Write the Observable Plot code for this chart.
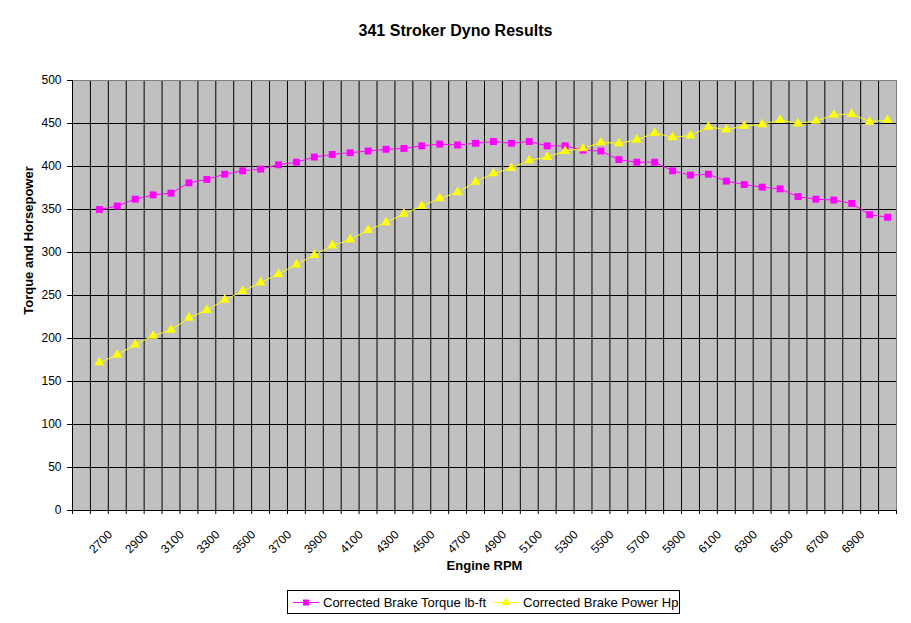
<!DOCTYPE html>
<html><head><meta charset="utf-8">
<script src="https://cdn.jsdelivr.net/npm/d3@7"></script>
<script src="https://cdn.jsdelivr.net/npm/@observablehq/plot@0.6"></script>
<style>
body{margin:0;background:#fff;font-family:"Liberation Sans",Arial,sans-serif;}
#wrap{position:relative;width:911px;height:623px;overflow:hidden;}
#title{position:absolute;left:0;top:0;width:911px;height:62px;line-height:62px;text-align:center;font-weight:bold;font-size:16px;color:#000;}
#chart{position:absolute;left:0;top:62px;}
#legend{position:absolute;left:287px;top:590px;width:391px;height:22px;border:1px solid #000;font-size:13px;display:flex;align-items:center;color:#000;background:#fff;}
#legend span{white-space:nowrap;}
#legend svg{display:block;}
</style></head><body>
<div id="wrap">
<div id="title">341 Stroker Dyno Results</div>
<div id="chart"></div>
<div id="legend"></div>
</div>
<script>
// Categories (first category is empty in the original sheet)
const categories = [2500,2600,2700,2800,2900,3000,3100,3200,3300,3400,3500,3600,3700,3800,3900,4000,4100,4200,4300,4400,4500,4600,4700,4800,4900,5000,5100,5200,5300,5400,5500,5600,5700,5800,5900,6000,6100,6200,6300,6400,6500,6600,6700,6800,6900,7000];
const rpm = [2600,2700,2800,2900,3000,3100,3200,3300,3400,3500,3600,3700,3800,3900,4000,4100,4200,4300,4400,4500,4600,4700,4800,4900,5000,5100,5200,5300,5400,5500,5600,5700,5800,5900,6000,6100,6200,6300,6400,6500,6600,6700,6800,6900,7000];
const torque = [350,354,362,367,369,381,385,391,395,397,402,405,411,414,416,418,420,421,424,426,425,427,429,427,429,424,424,419,418,408,405,405,395,390,391,383,379,376,374,365,362,361,357,344,341];
const power = [172,181,193,203,210,224,233,245,255,265,275,286,297,308,315,326,335,345,354,363,370,382,392,398,407,411,418,421,428,427,431,439,434,436,446,443,447,449,454,450,453,460,461,452,454];
const xTickLabels = [2700,2900,3100,3300,3500,3700,3900,4100,4300,4500,4700,4900,5100,5300,5500,5700,5900,6100,6300,6500,6700,6900];
const yTicks = [0,50,100,150,200,250,300,350,400,450,500];
const seriesNames = ["Corrected Brake Torque lb-ft","Corrected Brake Power Hp"];
const seriesColors = ["#ff00ff","#ffff00"];
const yTitle = "Torque and Horsepower";
const xTitle = "Engine RPM";

const half = 50;
const edges = categories.map(c => c - half).concat([categories[categories.length-1] + half]);
const innerEdges = edges.slice(1, -1);
const torqueData = rpm.map((r,i) => ({rpm:r, v:torque[i]}));
const powerData = rpm.map((r,i) => ({rpm:r, v:power[i]}));

const chart = Plot.plot({
  width: 911, height: 518,
  marginTop: 18, marginBottom: 70, marginLeft: 72, marginRight: 15,
  style: {fontFamily: "Liberation Sans, Arial, sans-serif", fontSize: "12px", background: "#fff", color: "#000", overflow: "visible"},
  x: {type: "linear", domain: [edges[0], edges[edges.length-1]]},
  y: {domain: [0, 500]},
  marks: [
    Plot.frame({fill: "#c0c0c0", stroke: null}),
    Plot.ruleX(innerEdges, {x: d => d, stroke: "#000", strokeWidth: 1}),
    Plot.ruleY(yTicks.slice(1, -1), {y: d => d, stroke: "#000", strokeWidth: 1}),
    Plot.frame({stroke: "#808080", fill: null}),
    Plot.ruleX([edges[0]], {x: d => d, stroke: "#000"}),
    Plot.ruleY([0], {y: d => d, stroke: "#000"}),
    Plot.axisY({ticks: yTicks, tickSize: 5, tickPadding: 6, label: null, fontSize: 12}),
    Plot.axisX({ticks: edges, tickSize: 4, tickFormat: () => "", label: null}),
    Plot.text(xTickLabels, {x: d => d, text: d => String(d), frameAnchor: "bottom", rotate: -45, textAnchor: "end", lineAnchor: "middle", dy: 22, dx: -7, fontSize: 12}),
    Plot.text([yTitle], {frameAnchor: "left", rotate: -90, textAnchor: "middle", dx: -44, dy: -55, fontWeight: "bold", fontSize: 13}),
    Plot.text([xTitle], {frameAnchor: "bottom", dy: 59, fontWeight: "bold", fontSize: 13}),
    Plot.line(torqueData, {x: "rpm", y: "v", stroke: seriesColors[0], strokeWidth: 1}),
    Plot.line(powerData, {x: "rpm", y: "v", stroke: seriesColors[1], strokeWidth: 1}),
    Plot.dot(torqueData, {x: "rpm", y: "v", symbol: "square", r: 3.9, fill: seriesColors[0], stroke: "none"}),
    Plot.dot(powerData, {x: "rpm", y: "v", symbol: "triangle", r: 3.7, fill: seriesColors[1], stroke: "none"})
  ]
});
document.getElementById("chart").appendChild(chart);

// Legend
const legend = document.getElementById("legend");
function swatch(color, kind) {
  const ns = "http://www.w3.org/2000/svg";
  const s = document.createElementNS(ns, "svg");
  s.setAttribute("width", 28); s.setAttribute("height", 12);
  const l = document.createElementNS(ns, "line");
  l.setAttribute("x1", 1); l.setAttribute("x2", 27); l.setAttribute("y1", 6.5); l.setAttribute("y2", 6.5);
  l.setAttribute("stroke", color);
  s.appendChild(l);
  const p = document.createElementNS(ns, "path");
  p.setAttribute("d", d3.symbol(kind === "square" ? d3.symbolSquare : d3.symbolTriangle, kind === "square" ? 36 : 34)());
  p.setAttribute("transform", "translate(14,6.5)");
  p.setAttribute("fill", color);
  s.appendChild(p);
  return s;
}
const kinds = ["square", "triangle"];
seriesNames.forEach((name, i) => {
  const sw = swatch(seriesColors[i], kinds[i]);
  sw.style.marginLeft = i === 0 ? "4px" : "6px";
  legend.appendChild(sw);
  const t = document.createElement("span");
  t.textContent = name;
  t.style.marginLeft = "3px";
  legend.appendChild(t);
});
</script>
</body></html>
